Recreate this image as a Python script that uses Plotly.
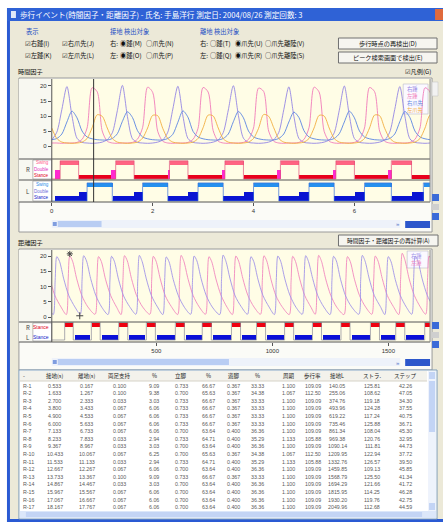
import plotly.graph_objects as go

W, H = 443, 522
FONT = "Noto Sans CJK JP, DejaVu Sans, sans-serif"
NUMFONT = "Liberation Sans, Arial, sans-serif"


def X(px):
    return px / W


def Y(py):
    return 1 - py / H


# ---------------- data: time factor curves (seconds, height) ----------------
time_s = [0.0, 0.1, 0.2, 0.3, 0.4, 0.5, 0.6, 0.7, 0.8, 0.9, 1.0, 1.1, 1.2, 1.3, 1.4, 1.5,
          1.6, 1.7, 1.8, 1.9, 2.0, 2.1, 2.2, 2.3, 2.4, 2.5, 2.6, 2.7, 2.8, 2.9, 3.0, 3.1,
          3.2, 3.3, 3.4, 3.5, 3.6, 3.7, 3.8, 3.9, 4.0, 4.1, 4.2, 4.3, 4.4, 4.5, 4.6, 4.7,
          4.8, 4.9, 5.0, 5.1, 5.2, 5.3, 5.4, 5.5, 5.6, 5.7, 5.8, 5.9, 6.0, 6.1, 6.2, 6.3,
          6.4, 6.5, 6.6, 6.7, 6.8, 6.9, 7.0, 7.1, 7.2, 7.3, 7.4, 7.5, 7.6]
r_heel = [2.0, 4.6, 12.2, 19.8, 10.1, 2.6, 1.2, 1.0, 0.9, 1.0, 1.3, 2.1, 4.4, 11.8, 20.2, 9.8,
          2.4, 1.2, 1.0, 0.9, 1.0, 1.3, 2.0, 4.6, 12.3, 19.9, 10.0, 2.5, 1.2, 1.0, 0.9, 1.0,
          1.3, 2.0, 4.5, 12.0, 20.1, 10.2, 2.6, 1.2, 1.0, 0.9, 1.0, 1.3, 2.1, 4.5, 12.1, 19.7,
          9.9, 2.5, 1.2, 1.0, 0.9, 1.0, 1.3, 2.0, 4.4, 11.9, 20.0, 10.1, 2.5, 1.2, 1.0, 0.9,
          1.0, 1.3, 2.0, 4.6, 12.2, 19.8, 10.0, 2.4, 1.2, 1.0, 0.9, 1.0, 1.3]
l_heel = [1.0, 1.0, 0.9, 1.0, 1.0, 1.2, 2.2, 6.0, 19.4, 18.1, 5.0, 1.6, 1.0, 0.9, 1.0, 1.0,
          1.2, 2.3, 6.1, 19.6, 17.9, 4.9, 1.6, 1.0, 0.9, 1.0, 1.0, 1.2, 2.2, 5.9, 19.5, 18.0,
          5.1, 1.6, 1.0, 0.9, 1.0, 1.0, 1.2, 2.2, 6.0, 19.3, 18.2, 5.0, 1.6, 1.0, 0.9, 1.0,
          1.0, 1.2, 2.2, 6.1, 19.6, 18.0, 4.9, 1.6, 1.0, 0.9, 1.0, 1.0, 1.2, 2.2, 6.0, 19.5,
          18.1, 5.0, 1.6, 1.0, 0.9, 1.0, 1.0, 1.2, 2.2, 6.0, 19.4, 18.0, 5.0]
r_toe = [2.1, 2.5, 4.0, 8.0, 11.6, 9.4, 5.0, 3.0, 2.4, 2.1, 2.0, 2.0, 2.5, 4.1, 8.2, 11.4,
         9.5, 5.1, 3.0, 2.4, 2.1, 2.0, 2.0, 2.5, 3.9, 7.9, 11.7, 9.6, 4.9, 3.0, 2.4, 2.1,
         2.0, 2.0, 2.5, 4.0, 8.1, 11.5, 9.4, 5.0, 3.0, 2.4, 2.1, 2.0, 2.0, 2.5, 4.0, 8.0,
         11.3, 9.5, 5.1, 3.0, 2.4, 2.1, 2.0, 2.0, 2.5, 4.1, 8.0, 11.6, 9.4, 5.0, 3.0, 2.4,
         2.1, 2.0, 2.0, 2.5, 4.0, 8.1, 11.5, 9.5, 5.0, 3.0, 2.4, 2.1, 2.0]
l_toe = [6.0, 2.5, 1.3, 1.0, 0.9, 1.0, 1.3, 2.5, 6.1, 10.4, 9.9, 6.0, 2.5, 1.3, 1.0, 0.9,
         1.0, 1.3, 2.6, 6.0, 10.2, 10.1, 5.9, 2.5, 1.3, 1.0, 0.9, 1.0, 1.3, 2.5, 6.1, 10.3,
         10.0, 6.0, 2.4, 1.3, 1.0, 0.9, 1.0, 1.3, 2.5, 5.9, 10.5, 9.9, 6.1, 2.5, 1.3, 1.0,
         0.9, 1.0, 1.3, 2.5, 6.0, 10.2, 10.0, 6.0, 2.5, 1.3, 1.0, 0.9, 1.0, 1.3, 2.5, 6.0,
         10.3, 10.1, 5.9, 2.6, 1.3, 1.0, 0.9, 1.0, 1.3, 2.5, 6.0, 10.3, 10.0]
cursor_time = 0.83

# ---------------- data: distance factor curves ----------------
dist_r_x = [45, 56, 64, 71, 83, 101, 123, 149,
            172, 180, 187, 199, 217, 239, 265,
            292, 300, 307, 319, 337, 359, 385,
            412, 420, 427, 439, 457, 479, 505,
            528, 536, 543, 555, 573, 595, 621,
            648, 656, 663, 675, 693, 715, 741,
            773, 781, 788, 800, 818, 840, 866,
            893, 901, 908, 920, 938, 960, 986,
            1009, 1017, 1024, 1036, 1054, 1076, 1102,
            1129, 1137, 1144, 1156, 1174, 1196, 1222,
            1249, 1257, 1264, 1276, 1294, 1316, 1342,
            1373, 1381, 1388, 1400, 1418, 1440, 1466,
            1485, 1493, 1500, 1512, 1530, 1552, 1578,
            1601, 1609, 1616, 1628, 1646, 1668, 1694]
dist_r_y = [1.6, 0.8, 12.0, 19.8, 18.2, 12.5, 7.0, 3.3,
            0.9, 12.2, 20.1, 18.4, 12.6, 7.1, 3.2,
            0.8, 11.8, 19.9, 18.3, 12.4, 6.9, 3.4,
            0.9, 12.1, 20.2, 18.2, 12.5, 7.0, 3.3,
            0.8, 12.0, 19.7, 18.1, 12.3, 7.0, 3.2,
            0.9, 11.9, 20.0, 18.4, 12.6, 7.1, 3.3,
            0.8, 12.2, 20.3, 18.3, 12.5, 6.9, 3.4,
            0.9, 12.0, 19.8, 18.2, 12.4, 7.0, 3.3,
            0.8, 11.9, 20.0, 18.3, 12.5, 7.1, 3.2,
            0.9, 12.1, 20.1, 18.2, 12.6, 7.0, 3.3,
            0.8, 12.0, 19.9, 18.4, 12.4, 6.9, 3.3,
            0.9, 12.2, 20.2, 18.3, 12.5, 7.0, 3.4,
            0.8, 11.8, 19.8, 18.1, 12.3, 7.0, 3.2,
            0.9, 12.0, 20.0, 18.3, 12.5, 7.1, 3.3]
dist_l_x = [45, 63, 89,
            112, 120, 127, 139, 157, 179, 205,
            236, 244, 251, 263, 281, 303, 329,
            348, 356, 363, 375, 393, 415, 441,
            472, 480, 487, 499, 517, 539, 565,
            592, 600, 607, 619, 637, 659, 685,
            712, 720, 727, 739, 757, 779, 805,
            828, 836, 843, 855, 873, 895, 921,
            949, 957, 964, 976, 994, 1016, 1042,
            1073, 1081, 1088, 1100, 1118, 1140, 1166,
            1185, 1193, 1200, 1212, 1230, 1252, 1278,
            1309, 1317, 1324, 1336, 1354, 1376, 1402,
            1429, 1437, 1444, 1456, 1474, 1496, 1522,
            1545, 1553, 1560, 1572, 1590, 1612, 1638,
            1661, 1669, 1676, 1688]
dist_l_y = [11.5, 7.0, 3.3,
            0.8, 12.1, 20.0, 18.3, 12.5, 7.0, 3.3,
            0.9, 12.0, 19.8, 18.2, 12.4, 7.1, 3.2,
            0.8, 11.9, 20.1, 18.4, 12.6, 7.0, 3.3,
            0.9, 12.2, 19.9, 18.3, 12.5, 6.9, 3.4,
            0.8, 12.0, 20.2, 18.2, 12.4, 7.0, 3.3,
            0.9, 11.8, 19.8, 18.1, 12.5, 7.1, 3.2,
            0.8, 12.1, 20.0, 18.3, 12.6, 7.0, 3.3,
            0.9, 12.0, 20.1, 18.4, 12.4, 6.9, 3.4,
            0.8, 11.9, 19.9, 18.2, 12.5, 7.0, 3.3,
            0.9, 12.2, 20.2, 18.3, 12.5, 7.1, 3.2,
            0.8, 12.0, 19.8, 18.2, 12.4, 7.0, 3.3,
            0.9, 12.1, 20.0, 18.3, 12.6, 7.0, 3.4,
            0.8, 12.3, 20.9, 18.6, 12.5, 7.1, 3.3,
            0.9, 12.0, 20.0, 18.3]
mark_x = [127, 170]
mark_y = [20.7, 0.4]

# ---------------- data: gait table (right foot) ----------------
row_labels = ["R-%d" % i for i in range(1, 18)]
contact_s = [0.533, 1.633, 2.700, 3.800, 4.900, 6.000, 7.133, 8.233, 9.367, 10.433, 11.533,
             12.667, 13.733, 14.867, 15.967, 17.067, 18.167]
toe_off_s = [0.167, 1.267, 2.333, 3.433, 4.533, 5.633, 6.733, 7.833, 8.967, 10.067, 11.133,
             12.267, 13.367, 14.467, 15.567, 16.667, 17.767]
double_s = [0.100, 0.100, 0.033, 0.067, 0.067, 0.067, 0.067, 0.033, 0.033, 0.067, 0.033,
            0.067, 0.100, 0.033, 0.067, 0.067, 0.067]
double_pct = [9.09, 9.38, 3.03, 6.06, 6.06, 6.06, 6.06, 2.94, 3.03, 6.25, 2.94, 6.06, 9.09,
              3.03, 6.06, 6.06, 6.06]
stance_s = [0.733, 0.700, 0.733, 0.733, 0.733, 0.733, 0.700, 0.733, 0.700, 0.700, 0.733,
            0.700, 0.733, 0.700, 0.700, 0.700, 0.700]
stance_pct = [66.67, 65.63, 66.67, 66.67, 66.67, 66.67, 63.64, 64.71, 63.64, 65.63, 64.71,
              63.64, 66.67, 63.64, 63.64, 63.64, 63.64]
swing_s = [0.367, 0.367, 0.367, 0.367, 0.367, 0.367, 0.400, 0.400, 0.400, 0.367, 0.400,
           0.400, 0.367, 0.400, 0.400, 0.400, 0.400]
swing_pct = [33.33, 34.38, 33.33, 33.33, 33.33, 33.33, 36.36, 35.29, 36.36, 34.38, 35.29,
             36.36, 33.33, 36.36, 36.36, 36.36, 36.36]
cycle_s = [1.100, 1.067, 1.100, 1.100, 1.100, 1.100, 1.100, 1.133, 1.100, 1.067, 1.133,
           1.100, 1.100, 1.100, 1.100, 1.100, 1.100]
cadence = [109.09, 112.50, 109.09, 109.09, 109.09, 109.09, 109.09, 105.88, 109.09, 112.50,
           105.88, 109.09, 109.09, 109.09, 109.09, 109.09, 109.09]
contact_L = [140.05, 255.06, 374.76, 493.96, 619.22, 735.46, 861.34, 969.38, 1090.14, 1209.95,
             1332.76, 1459.85, 1568.79, 1694.29, 1815.95, 1930.20, 2049.96]
stride = [125.81, 108.62, 119.18, 124.28, 117.24, 125.88, 108.04, 120.76, 111.81, 122.94,
          126.57, 109.13, 125.50, 121.66, 114.25, 119.76, 112.68]
step_len = [42.26, 47.05, 34.30, 37.55, 40.75, 36.71, 45.30, 32.95, 44.73, 37.72, 39.50,
            45.85, 41.34, 41.72, 46.28, 42.75, 44.59]
header_labels = ["-", "接地(s)", "離地(s)", "両足支持", "%", "立脚", "%", "遊脚", "%",
                 "周期", "歩行率", "接地L", "ストラ.", "ステップ"]

# left foot events
l_contact_s = [0.067, 1.200, 2.300, 3.400, 4.500, 5.600, 6.733]
l_toe_off_s = [0.700, 1.800, 2.900, 4.000, 5.100, 6.200, 7.367]

# stance bars in the distance view
r_stance_d0 = [105, 220, 338, 457, 582, 698, 824, 932, 1053, 1173, 1296, 1423, 1532, 1657]
r_stance_d1 = [142, 258, 377, 496, 621, 737, 863, 971, 1092, 1212, 1335, 1462, 1571, 1696]
l_stance_d0 = [148, 266, 383, 502, 627, 743, 869, 977, 1098, 1218, 1341, 1468, 1577]
l_stance_d1 = [215, 334, 452, 578, 694, 820, 929, 1049, 1170, 1292, 1419, 1529, 1654]

# ---------------- colours ----------------
C_RH, C_LH, C_RT, C_LT = "#9486e4", "#f07cba", "#5b86e2", "#f2ae40"
C_DR, C_DL = "#a194e8", "#f088be"
YEL = "#fffde6"

fig = go.Figure()

# time factor curves
for vals, col in [(r_heel, C_RH), (l_heel, C_LH), (r_toe, C_RT), (l_toe, C_LT)]:
    fig.add_trace(go.Scatter(x=time_s, y=vals, mode="lines", xaxis="x", yaxis="y",
                             line=dict(color=col, width=0.9, shape="spline", smoothing=0.8),
                             showlegend=False, hoverinfo="skip"))


def hbar(starts, ends, y0, y1, color, xa, ya):
    fig.add_trace(go.Bar(orientation="h", base=starts,
                         x=[e - s for s, e in zip(starts, ends)],
                         y=[(y0 + y1) / 2] * len(starts), width=[y1 - y0] * len(starts),
                         marker=dict(color=color, line=dict(width=0)),
                         xaxis=xa, yaxis=ya, showlegend=False, hoverinfo="skip"))


def step_line(events_hi, events_lo, hi, lo, x_start, color, xa, ya):
    xs, ys = [x_start], [lo]
    for a, b in zip(events_hi, events_lo):
        xs += [a, b]
        ys += [hi, lo]
    fig.add_trace(go.Scatter(x=xs, y=ys, mode="lines", line=dict(color=color, width=0.7, shape="hv"),
                             xaxis=xa, yaxis=ya, showlegend=False, hoverinfo="skip"))


# right foot (time)
r_sw0 = toe_off_s[:7]
r_sw1 = contact_s[:7]
r_st0 = contact_s[:7]
r_st1 = toe_off_s[1:8]
r_db0 = [t - d for t, d in zip(toe_off_s[:7], double_s[:7])]
r_db1 = toe_off_s[:7]
hbar(r_sw0, r_sw1, 2.15, 2.75, "#ff6482", "x2", "y2")
hbar(r_st0, r_st1, 0.15, 0.7, "#e8001c", "x2", "y2")
hbar(r_db0, r_db1, 0.15, 1.45, "#ff2ad0", "x2", "y2")
step_line(r_sw0, r_sw1, 2.75, 0.15, 0.0, "#e0507a", "x2", "y2")

# left foot (time)
l_st0 = l_contact_s
l_st1 = l_toe_off_s
l_sw0 = l_toe_off_s
l_sw1 = l_contact_s[1:] + [7.6]
l_db0 = contact_s[:7]
l_db1 = l_toe_off_s
hbar(l_sw0, l_sw1, 2.05, 2.6, "#2590ee", "x3", "y3")
hbar(l_st0, l_st1, 0.14, 0.8, "#0a14d2", "x3", "y3")
hbar(l_db0, l_db1, 0.14, 1.35, "#0a14d2", "x3", "y3")
step_line(l_sw0, l_sw1, 2.6, 0.14, 0.0, "#3a70d8", "x3", "y3")

# distance curves
fig.add_trace(go.Scatter(x=dist_l_x, y=dist_l_y, mode="lines", xaxis="x4", yaxis="y4",
                         line=dict(color=C_DL, width=0.9, shape="spline", smoothing=0.8),
                         showlegend=False, hoverinfo="skip"))
fig.add_trace(go.Scatter(x=dist_r_x, y=dist_r_y, mode="lines", xaxis="x4", yaxis="y4",
                         line=dict(color=C_DR, width=0.9, shape="spline", smoothing=0.8),
                         showlegend=False, hoverinfo="skip"))
fig.add_trace(go.Scatter(x=mark_x, y=mark_y, mode="markers", xaxis="x4", yaxis="y4",
                         marker=dict(symbol=["asterisk-open", "cross-thin-open"], size=5,
                                     color="#444", line=dict(width=1, color="#444")),
                         showlegend=False, hoverinfo="skip"))

# stance in distance
hbar(r_stance_d0, r_stance_d1, 1.55, 1.95, "#ee0010", "x5", "y5")
hbar(l_stance_d0, l_stance_d1, 0.2, 0.7, "#0a10d8", "x5", "y5")
step_line(r_stance_d0, r_stance_d1, 1.95, 0.2, 49, "#8a8a9a", "x5", "y5")

# ---------------- shapes ----------------
shapes = []


def rect(x0, y0, x1, y1, fill, line=None, lw=1):
    shapes.append(dict(type="rect", xref="paper", yref="paper", x0=X(x0), x1=X(x1), y0=Y(y1), y1=Y(y0),
                       fillcolor=fill, line=dict(color=line or fill, width=lw if line else 0),
                       layer="below"))


def hline(x0, x1, y, color="#555", lw=1, layer="above"):
    shapes.append(dict(type="line", xref="paper", yref="paper", x0=X(x0), x1=X(x1), y0=Y(y), y1=Y(y),
                       line=dict(color=color, width=lw), layer=layer))


def vline(x, y0, y1, color="#555", lw=1, layer="above"):
    shapes.append(dict(type="line", xref="paper", yref="paper", x0=X(x), x1=X(x), y0=Y(y0), y1=Y(y1),
                       line=dict(color=color, width=lw), layer=layer))


# window chrome
rect(5, 8, 443, 522, "#ece9d8")
rect(5, 8, 443, 21, "#2f62d6")
rect(5, 21, 8, 522, "#2a5ad3")
rect(5, 519, 443, 522, "#2a5ad3")
rect(435, 9, 443, 20, "#e06a3c")
rect(9, 11, 14, 18, "#dfe8f8")

# buttons
for (x0, y0, x1, y1) in [(338, 38, 437, 49), (338, 52, 437, 63), (338, 235, 438, 246)]:
    rect(x0, y0, x1, y1, "#f6f5f0", "#707070", 1)

# top chart container
rect(17, 78, 432, 232, "#fbfbf7", "#9a9a9a", 1)
rect(17, 79, 50, 202, "#f8f8f1")
rect(50, 79, 430, 202, YEL)
rect(31, 160, 50, 179, "#ffffff", "#909090", 0.6)
rect(31, 181, 50, 201, "#ffffff", "#909090", 0.6)
hline(17, 430, 159)
hline(17, 430, 180)
hline(17, 430, 202)
vline(50, 79, 202)
vline(430, 79, 202, "#888")
# legend box top
rect(403, 84, 428, 114, "#fbf9ff", "#b8b8c8", 0.6)
# scroll bar top
rect(50, 220, 400, 228, "#eef2fa")
rect(56, 221, 100, 227, "#b9cdf3")
rect(51, 222, 55, 226, "#7f9ddf")
rect(405, 221, 430, 228, "#2d57cb")
rect(432, 194, 439, 201, "#3a6ad8")
rect(432, 204, 439, 210, "#cfcfcf")
rect(432, 213, 439, 220, "#3a6ad8")
rect(432, 82, 438, 96, "#f2f2f2", "#c8c8c8", 0.6)

# bottom chart container
rect(17, 249, 432, 370, "#fbfbf7", "#9a9a9a", 1)
rect(17, 250, 50, 342, "#f8f8f1")
rect(50, 250, 430, 342, YEL)
rect(31, 323, 50, 341, "#ffffff", "#909090", 0.6)
hline(17, 430, 322)
hline(17, 430, 342)
vline(50, 250, 342)
vline(430, 250, 342, "#888")
rect(407, 251, 428, 268, "#fbf9ff", "#b8b8c8", 0.6)
rect(50, 358, 400, 366, "#eef2fa")
rect(56, 359, 228, 365, "#b9cdf3")
rect(51, 360, 55, 364, "#7f9ddf")
rect(405, 359, 430, 366, "#2d57cb")
rect(432, 322, 439, 329, "#3a6ad8")
rect(432, 332, 439, 338, "#cfcfcf")
rect(432, 341, 439, 348, "#3a6ad8")

# table
rect(17, 370, 437, 519, "#ffffff", "#7f9db9", 1)
rect(18, 371, 427, 381, "#f3f2ec")
hline(18, 427, 381, "#d6d3c8", 1)
rect(428, 371, 436, 511, "#eef3fc")
rect(429, 372, 435, 379, "#c3d4f5")
rect(429, 381, 435, 432, "#c3d4f5")
rect(429, 503, 435, 510, "#c3d4f5")
rect(18, 511, 436, 518, "#dce7fa")
rect(24, 512, 422, 517, "#c3d4f5")

# cursor line (time)
shapes.append(dict(type="line", xref="x", yref="paper", x0=cursor_time, x1=cursor_time,
                   y0=Y(202), y1=Y(79), line=dict(color="#333", width=1), layer="above"))

# ---------------- annotations ----------------
ann = []


def txt(s, x, y, size=6, color="#111", anchor="left", family=FONT):
    ann.append(dict(text=s, x=X(x), y=Y(y), xref="paper", yref="paper", xanchor=anchor,
                    yanchor="middle", showarrow=False, font=dict(size=size, color=color, family=family)))


txt("歩行イベント(時間因子・距離因子) - 氏名: 手島洋行 測定日: 2004/08/26 測定回数: 3", 16, 14.5, 7.6, "#ffffff")
GB = "#1d4fc4"
txt("表示", 22, 31, 6.3, GB)
txt("接地 検出対象", 106, 31, 6.3, GB)
txt("離地 検出対象", 197, 31, 6.3, GB)
row1, row2 = 43, 55
S = 6.3
txt("☑右踵(I)", 21, row1, S); txt("☑右爪先(J)", 58, row1, S)
txt("☑左踵(K)", 21, row2, S); txt("☑左爪先(L)", 58, row2, S)
txt("右:", 106, row1, S); txt("◉踵(M)", 117, row1, S); txt("○爪先(N)", 143, row1, S)
txt("左:", 106, row2, S); txt("◉踵(O)", 117, row2, S); txt("○爪先(P)", 143, row2, S)
txt("右:", 197, row1, S); txt("○踵(T)", 207, row1, S); txt("◉爪先(U)", 232, row1, S); txt("○爪先離陸(V)", 262, row1, S)
txt("左:", 197, row2, S); txt("○踵(Q)", 207, row2, S); txt("◉爪先(R)", 232, row2, S); txt("○爪先離陸(S)", 262, row2, S)
txt("歩行時点の再検出(D)", 387.5, 43.5, 6.2, "#111", "center")
txt("ピーク検索画面で検出(E)", 387.5, 57.5, 6.2, "#111", "center")
txt("時間因子", 14, 71, 6.2)
txt("☑凡例(G)", 403, 71, 6.2)
txt("距離因子", 14, 242, 6.2)
txt("時間因子・距離因子の再計算(A)", 388, 240.5, 5.8, "#111", "center")

# legends
for i, (nm, col) in enumerate([("右踵", C_RH), ("左踵", C_LH), ("右爪先", C_RT), ("左爪先", C_LT)]):
    txt(nm, 405, 88.5 + 7 * i, 5.3, col)
for i, (nm, col) in enumerate([("右踵", C_DR), ("左踵", C_DL)]):
    txt(nm, 409, 255.5 + 7 * i, 5.3, col)

# gait panel row labels
txt("R", 22, 169.5, 6, "#444")
txt("L", 22, 191, 6, "#444")
for nm, yy, col in [("Swing", 163, "#ff5a8a"), ("Double", 169.5, "#e030c0"), ("Stance", 176, "#e00020")]:
    txt(nm, 49, yy, 4.5, col, "right", NUMFONT)
for nm, yy, col in [("Swing", 184.5, "#2a8ae8"), ("Double", 191, "#6a6ad8"), ("Stance", 197.5, "#1020c8")]:
    txt(nm, 49, yy, 4.5, col, "right", NUMFONT)
txt("R", 22, 327, 6, "#444")
txt("L", 22, 337, 6, "#444")
txt("Stance", 49, 327, 5, "#e00020", "right", NUMFONT)
txt("Stance", 49, 337, 5, "#1020c8", "right", NUMFONT)
txt("»", 398, 224.5, 6, "#5575c8", "center", NUMFONT)
txt("»", 398, 362.5, 6, "#5575c8", "center", NUMFONT)

# table text
col_x = [19, 53, 85, 118, 153, 180, 207, 233, 257, 288, 312, 337, 372, 405]
for j, h in enumerate(header_labels):
    txt(h, col_x[j], 376, 5.5, "#222", "left" if j == 0 else "center")
columns = [row_labels,
           ["%.3f" % v for v in contact_s], ["%.3f" % v for v in toe_off_s],
           ["%.3f" % v for v in double_s], ["%.2f" % v for v in double_pct],
           ["%.3f" % v for v in stance_s], ["%.2f" % v for v in stance_pct],
           ["%.3f" % v for v in swing_s], ["%.2f" % v for v in swing_pct],
           ["%.3f" % v for v in cycle_s], ["%.2f" % v for v in cadence],
           ["%.2f" % v for v in contact_L], ["%.2f" % v for v in stride],
           ["%.2f" % v for v in step_len]]
for i in range(len(row_labels)):
    yy = 385.5 + 7.6 * i
    for j, col in enumerate(columns):
        txt(col[i], col_x[j], yy, 5.3, "#5a5a5a", "left" if j == 0 else "center", NUMFONT)

# ---------------- axes ----------------
ax_common = dict(showgrid=False, zeroline=False, showline=False, fixedrange=True)
tfont = dict(size=6, color="#333", family=NUMFONT)
fig.update_layout(
    width=W, height=H, margin=dict(l=0, r=0, t=0, b=0),
    paper_bgcolor="#ffffff", plot_bgcolor="rgba(0,0,0,0)",
    barmode="overlay", bargap=0, showlegend=False,
    shapes=shapes, annotations=ann,
    xaxis=dict(domain=[X(50), X(430)], range=[0, 7.5], anchor="y", showticklabels=False, ticks="", **ax_common),
    yaxis=dict(domain=[Y(159), Y(79)], range=[-4.33, 22.33], anchor="x", tickvals=[0, 5, 10, 15, 20],
               ticks="outside", ticklen=3, tickcolor="#555", tickfont=tfont, **ax_common),
    xaxis2=dict(domain=[X(50), X(430)], range=[0, 7.5], anchor="y2", showticklabels=False, ticks="", **ax_common),
    yaxis2=dict(domain=[Y(180), Y(159)], range=[0, 3], anchor="x2", showticklabels=False, ticks="", **ax_common),
    xaxis3=dict(domain=[X(50), X(430)], range=[0, 7.5], anchor="y3", tickvals=[0, 2, 4, 6],
                ticks="outside", ticklen=3, tickcolor="#555", tickfont=tfont, **ax_common),
    yaxis3=dict(domain=[Y(202), Y(180)], range=[0, 3], anchor="x3", showticklabels=False, ticks="", **ax_common),
    xaxis4=dict(domain=[X(50), X(430)], range=[49.4, 1680], anchor="y4", showticklabels=False, ticks="", **ax_common),
    yaxis4=dict(domain=[Y(322), Y(250)], range=[-1.64, 21.97], anchor="x4", tickvals=[0, 5, 10, 15, 20],
                ticks="outside", ticklen=3, tickcolor="#555", tickfont=tfont, **ax_common),
    xaxis5=dict(domain=[X(50), X(430)], range=[49.4, 1680], anchor="y5", tickvals=[500, 1000, 1500],
                ticks="outside", ticklen=3, tickcolor="#555", tickfont=tfont, **ax_common),
    yaxis5=dict(domain=[Y(342), Y(322)], range=[0, 2], anchor="x5", showticklabels=False, ticks="", **ax_common),
)

fig.write_html("out.html", config={"displayModeBar": False},
               post_script="document.body.style.margin='0px';document.body.style.padding='0px';"
                           "document.body.style.overflow='hidden';")
